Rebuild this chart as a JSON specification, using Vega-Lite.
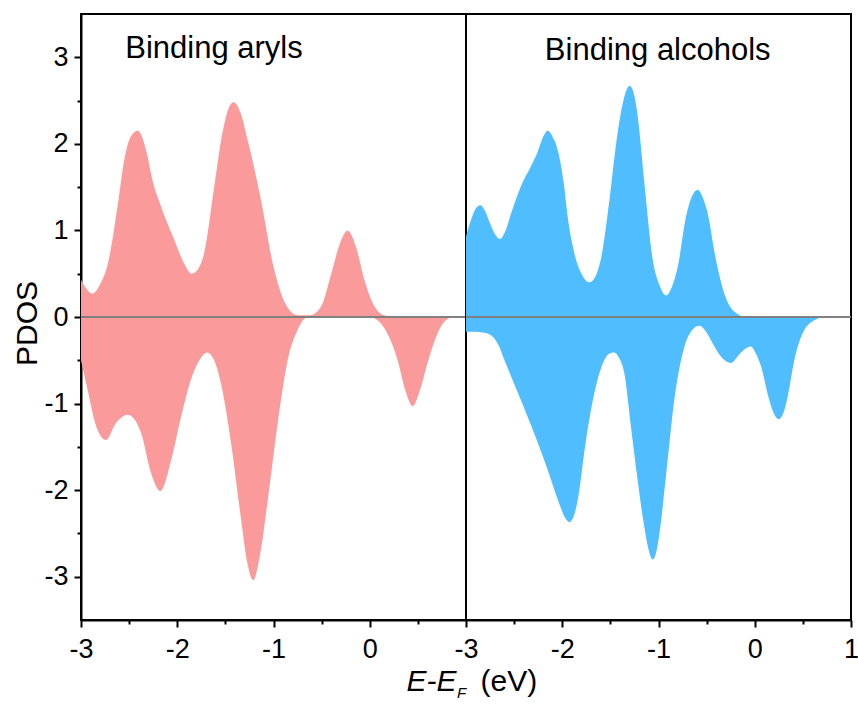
{
  "$schema": "https://vega.github.io/schema/vega-lite/v6.json",
  "padding": {"left": 11, "top": 13, "right": 0, "bottom": 0},
  "bounds": "flush",
  "spacing": 0,
  "config": {
    "font": "Liberation Sans",
    "view": {"stroke": "#000000", "strokeWidth": 2},
    "axis": {
      "grid": false,
      "domainColor": "#000000",
      "domainWidth": 2,
      "tickColor": "#000000",
      "tickWidth": 2,
      "labelColor": "#000000",
      "labelFont": "Liberation Sans",
      "labelFontSize": 27,
      "labelFlush": false,
      "labelOverlap": false,
      "titleFont": "Liberation Sans",
      "titleFontSize": 30,
      "titleFontWeight": "normal",
      "titleColor": "#000000"
    }
  },
  "title": {
    "text": "F",
    "orient": "bottom",
    "anchor": "start",
    "frame": "group",
    "dx": 376,
    "offset": -11,
    "fontSize": 15,
    "fontStyle": "italic",
    "fontWeight": "normal",
    "font": "Liberation Sans",
    "color": "#000000",
    "baseline": "top"
  },
  "datasets": {
    "aryls": [
      {"E": -3.00, "pdos": 0.43, "spin": "up"},
      {"E": -2.94, "pdos": 0.32, "spin": "up"},
      {"E": -2.88, "pdos": 0.27, "spin": "up"},
      {"E": -2.80, "pdos": 0.38, "spin": "up"},
      {"E": -2.72, "pdos": 0.62, "spin": "up"},
      {"E": -2.62, "pdos": 1.28, "spin": "up"},
      {"E": -2.55, "pdos": 1.82, "spin": "up"},
      {"E": -2.48, "pdos": 2.09, "spin": "up"},
      {"E": -2.41, "pdos": 2.15, "spin": "up"},
      {"E": -2.31, "pdos": 1.86, "spin": "up"},
      {"E": -2.26, "pdos": 1.59, "spin": "up"},
      {"E": -2.17, "pdos": 1.28, "spin": "up"},
      {"E": -2.03, "pdos": 0.89, "spin": "up"},
      {"E": -1.93, "pdos": 0.62, "spin": "up"},
      {"E": -1.85, "pdos": 0.50, "spin": "up"},
      {"E": -1.78, "pdos": 0.56, "spin": "up"},
      {"E": -1.72, "pdos": 0.74, "spin": "up"},
      {"E": -1.615, "pdos": 1.51, "spin": "up"},
      {"E": -1.53, "pdos": 2.13, "spin": "up"},
      {"E": -1.46, "pdos": 2.43, "spin": "up"},
      {"E": -1.414, "pdos": 2.48, "spin": "up"},
      {"E": -1.34, "pdos": 2.35, "spin": "up"},
      {"E": -1.27, "pdos": 2.05, "spin": "up"},
      {"E": -1.13, "pdos": 1.35, "spin": "up"},
      {"E": -1.00, "pdos": 0.58, "spin": "up"},
      {"E": -0.86, "pdos": 0.12, "spin": "up"},
      {"E": -0.75, "pdos": 0.02, "spin": "up"},
      {"E": -0.62, "pdos": 0.02, "spin": "up"},
      {"E": -0.506, "pdos": 0.12, "spin": "up"},
      {"E": -0.40, "pdos": 0.50, "spin": "up"},
      {"E": -0.31, "pdos": 0.85, "spin": "up"},
      {"E": -0.23, "pdos": 0.995, "spin": "up"},
      {"E": -0.143, "pdos": 0.81, "spin": "up"},
      {"E": -0.056, "pdos": 0.43, "spin": "up"},
      {"E": 0.05, "pdos": 0.12, "spin": "up"},
      {"E": 0.15, "pdos": 0.02, "spin": "up"},
      {"E": 0.30, "pdos": 0.0, "spin": "up"},
      {"E": 1.00, "pdos": 0.0, "spin": "up"},
      {"E": -3.00, "pdos": -0.50, "spin": "down"},
      {"E": -2.93, "pdos": -0.85, "spin": "down"},
      {"E": -2.84, "pdos": -1.27, "spin": "down"},
      {"E": -2.74, "pdos": -1.42, "spin": "down"},
      {"E": -2.64, "pdos": -1.23, "spin": "down"},
      {"E": -2.515, "pdos": -1.13, "spin": "down"},
      {"E": -2.376, "pdos": -1.34, "spin": "down"},
      {"E": -2.27, "pdos": -1.81, "spin": "down"},
      {"E": -2.176, "pdos": -2.01, "spin": "down"},
      {"E": -2.065, "pdos": -1.66, "spin": "down"},
      {"E": -1.96, "pdos": -1.15, "spin": "down"},
      {"E": -1.86, "pdos": -0.73, "spin": "down"},
      {"E": -1.77, "pdos": -0.50, "spin": "down"},
      {"E": -1.69, "pdos": -0.41, "spin": "down"},
      {"E": -1.62, "pdos": -0.49, "spin": "down"},
      {"E": -1.545, "pdos": -0.77, "spin": "down"},
      {"E": -1.44, "pdos": -1.46, "spin": "down"},
      {"E": -1.34, "pdos": -2.31, "spin": "down"},
      {"E": -1.27, "pdos": -2.85, "spin": "down"},
      {"E": -1.21, "pdos": -3.04, "spin": "down"},
      {"E": -1.15, "pdos": -2.81, "spin": "down"},
      {"E": -1.06, "pdos": -2.12, "spin": "down"},
      {"E": -0.957, "pdos": -1.23, "spin": "down"},
      {"E": -0.853, "pdos": -0.50, "spin": "down"},
      {"E": -0.75, "pdos": -0.15, "spin": "down"},
      {"E": -0.66, "pdos": -0.01, "spin": "down"},
      {"E": -0.55, "pdos": 0.0, "spin": "down"},
      {"E": 0.00, "pdos": 0.0, "spin": "down"},
      {"E": 0.07, "pdos": -0.03, "spin": "down"},
      {"E": 0.14, "pdos": -0.11, "spin": "down"},
      {"E": 0.29, "pdos": -0.50, "spin": "down"},
      {"E": 0.37, "pdos": -0.85, "spin": "down"},
      {"E": 0.446, "pdos": -1.03, "spin": "down"},
      {"E": 0.52, "pdos": -0.85, "spin": "down"},
      {"E": 0.60, "pdos": -0.53, "spin": "down"},
      {"E": 0.74, "pdos": -0.11, "spin": "down"},
      {"E": 0.84, "pdos": -0.01, "spin": "down"},
      {"E": 1.00, "pdos": 0.0, "spin": "down"}
    ],
    "alcohols": [
      {"E": -3.00, "pdos": 0.93, "spin": "up"},
      {"E": -2.948, "pdos": 1.12, "spin": "up"},
      {"E": -2.90, "pdos": 1.25, "spin": "up"},
      {"E": -2.85, "pdos": 1.29, "spin": "up"},
      {"E": -2.80, "pdos": 1.22, "spin": "up"},
      {"E": -2.75, "pdos": 1.08, "spin": "up"},
      {"E": -2.69, "pdos": 0.94, "spin": "up"},
      {"E": -2.647, "pdos": 0.90, "spin": "up"},
      {"E": -2.60, "pdos": 0.97, "spin": "up"},
      {"E": -2.53, "pdos": 1.20, "spin": "up"},
      {"E": -2.43, "pdos": 1.51, "spin": "up"},
      {"E": -2.325, "pdos": 1.74, "spin": "up"},
      {"E": -2.255, "pdos": 1.91, "spin": "up"},
      {"E": -2.19, "pdos": 2.10, "spin": "up"},
      {"E": -2.15, "pdos": 2.15, "spin": "up"},
      {"E": -2.10, "pdos": 2.08, "spin": "up"},
      {"E": -2.047, "pdos": 1.93, "spin": "up"},
      {"E": -1.98, "pdos": 1.51, "spin": "up"},
      {"E": -1.944, "pdos": 1.16, "spin": "up"},
      {"E": -1.875, "pdos": 0.74, "spin": "up"},
      {"E": -1.80, "pdos": 0.50, "spin": "up"},
      {"E": -1.72, "pdos": 0.40, "spin": "up"},
      {"E": -1.65, "pdos": 0.48, "spin": "up"},
      {"E": -1.60, "pdos": 0.66, "spin": "up"},
      {"E": -1.51, "pdos": 1.35, "spin": "up"},
      {"E": -1.424, "pdos": 2.13, "spin": "up"},
      {"E": -1.36, "pdos": 2.52, "spin": "up"},
      {"E": -1.30, "pdos": 2.67, "spin": "up"},
      {"E": -1.25, "pdos": 2.55, "spin": "up"},
      {"E": -1.216, "pdos": 2.32, "spin": "up"},
      {"E": -1.147, "pdos": 1.55, "spin": "up"},
      {"E": -1.06, "pdos": 0.66, "spin": "up"},
      {"E": -0.99, "pdos": 0.37, "spin": "up"},
      {"E": -0.92, "pdos": 0.25, "spin": "up"},
      {"E": -0.86, "pdos": 0.35, "spin": "up"},
      {"E": -0.80, "pdos": 0.58, "spin": "up"},
      {"E": -0.714, "pdos": 1.16, "spin": "up"},
      {"E": -0.65, "pdos": 1.40, "spin": "up"},
      {"E": -0.593, "pdos": 1.47, "spin": "up"},
      {"E": -0.54, "pdos": 1.38, "spin": "up"},
      {"E": -0.49, "pdos": 1.20, "spin": "up"},
      {"E": -0.403, "pdos": 0.66, "spin": "up"},
      {"E": -0.316, "pdos": 0.27, "spin": "up"},
      {"E": -0.21, "pdos": 0.06, "spin": "up"},
      {"E": -0.09, "pdos": 0.0, "spin": "up"},
      {"E": 1.00, "pdos": 0.0, "spin": "up"},
      {"E": -3.00, "pdos": -0.17, "spin": "down"},
      {"E": -2.90, "pdos": -0.17, "spin": "down"},
      {"E": -2.83, "pdos": -0.18, "spin": "down"},
      {"E": -2.76, "pdos": -0.20, "spin": "down"},
      {"E": -2.72, "pdos": -0.23, "spin": "down"},
      {"E": -2.66, "pdos": -0.33, "spin": "down"},
      {"E": -2.60, "pdos": -0.50, "spin": "down"},
      {"E": -2.43, "pdos": -0.96, "spin": "down"},
      {"E": -2.29, "pdos": -1.35, "spin": "down"},
      {"E": -2.15, "pdos": -1.77, "spin": "down"},
      {"E": -2.03, "pdos": -2.16, "spin": "down"},
      {"E": -1.97, "pdos": -2.32, "spin": "down"},
      {"E": -1.926, "pdos": -2.37, "spin": "down"},
      {"E": -1.88, "pdos": -2.30, "spin": "down"},
      {"E": -1.84, "pdos": -2.12, "spin": "down"},
      {"E": -1.753, "pdos": -1.42, "spin": "down"},
      {"E": -1.667, "pdos": -0.88, "spin": "down"},
      {"E": -1.58, "pdos": -0.54, "spin": "down"},
      {"E": -1.52, "pdos": -0.43, "spin": "down"},
      {"E": -1.465, "pdos": -0.41, "spin": "down"},
      {"E": -1.41, "pdos": -0.47, "spin": "down"},
      {"E": -1.355, "pdos": -0.65, "spin": "down"},
      {"E": -1.286, "pdos": -1.27, "spin": "down"},
      {"E": -1.216, "pdos": -1.89, "spin": "down"},
      {"E": -1.147, "pdos": -2.43, "spin": "down"},
      {"E": -1.10, "pdos": -2.70, "spin": "down"},
      {"E": -1.06, "pdos": -2.80, "spin": "down"},
      {"E": -1.02, "pdos": -2.70, "spin": "down"},
      {"E": -0.99, "pdos": -2.50, "spin": "down"},
      {"E": -0.92, "pdos": -1.81, "spin": "down"},
      {"E": -0.836, "pdos": -0.96, "spin": "down"},
      {"E": -0.73, "pdos": -0.34, "spin": "down"},
      {"E": -0.65, "pdos": -0.15, "spin": "down"},
      {"E": -0.576, "pdos": -0.10, "spin": "down"},
      {"E": -0.50, "pdos": -0.18, "spin": "down"},
      {"E": -0.455, "pdos": -0.27, "spin": "down"},
      {"E": -0.35, "pdos": -0.46, "spin": "down"},
      {"E": -0.247, "pdos": -0.53, "spin": "down"},
      {"E": -0.15, "pdos": -0.42, "spin": "down"},
      {"E": -0.09, "pdos": -0.36, "spin": "down"},
      {"E": -0.039, "pdos": -0.34, "spin": "down"},
      {"E": 0.01, "pdos": -0.42, "spin": "down"},
      {"E": 0.065, "pdos": -0.57, "spin": "down"},
      {"E": 0.151, "pdos": -0.96, "spin": "down"},
      {"E": 0.20, "pdos": -1.12, "spin": "down"},
      {"E": 0.25, "pdos": -1.18, "spin": "down"},
      {"E": 0.30, "pdos": -1.10, "spin": "down"},
      {"E": 0.342, "pdos": -0.92, "spin": "down"},
      {"E": 0.411, "pdos": -0.50, "spin": "down"},
      {"E": 0.515, "pdos": -0.15, "spin": "down"},
      {"E": 0.636, "pdos": -0.03, "spin": "down"},
      {"E": 0.70, "pdos": 0.0, "spin": "down"},
      {"E": 1.00, "pdos": 0.0, "spin": "down"}
    ]
  },
  "hconcat": [
    {
      "width": 385,
      "height": 606,
      "data": {"name": "aryls"},
      "layer": [
        {
          "mark": {"type": "area", "interpolate": "monotone", "color": "#FA9A9A"},
          "encoding": {
            "x": {
              "field": "E", "type": "quantitative",
              "scale": {"domain": [-3, 1], "nice": false, "zero": false},
              "axis": {
                "values": [-3, -2.5, -2, -1.5, -1, -0.5, 0, 0.5],
                "tickSize": {"condition": {"test": "datum.value % 1 !== 0", "value": 4}, "value": 7},
                "labelExpr": "datum.value % 1 === 0 ? '' + datum.value : ''",
                "labelPadding": 9,
                "title": "E-E",
                "titleFontStyle": "italic",
                "titleX": 375,
                "titleY": 70,
                "titleAlign": "right",
                "titleBaseline": "alphabetic"
              }
            },
            "y": {
              "field": "pdos", "type": "quantitative", "stack": null,
              "scale": {"domain": [-3.5, 3.5], "nice": false},
              "axis": {
                "values": [-3, -2.5, -2, -1.5, -1, -0.5, 0, 0.5, 1, 1.5, 2, 2.5, 3],
                "tickSize": {"condition": {"test": "datum.value % 1 !== 0", "value": 4}, "value": 7},
                "labelExpr": "datum.value % 1 === 0 ? '' + datum.value : ''",
                "labelPadding": 6,
                "title": "PDOS",
                "titleAngle": -90,
                "titleX": -45,
                "titleY": 309,
                "titleAlign": "center",
                "titleBaseline": "alphabetic"
              }
            },
            "detail": {"field": "spin"}
          }
        },
        {
          "mark": {"type": "rule", "color": "#808080", "strokeWidth": 2.2},
          "encoding": {"y": {"datum": 0}}
        },
        {
          "data": {"values": [{"label": "Binding aryls"}]},
          "mark": {"type": "text", "fontSize": 31, "align": "center", "baseline": "alphabetic", "color": "#000000", "font": "Liberation Sans"},
          "encoding": {
            "x": {"datum": -1.618},
            "y": {"datum": 2.99},
            "text": {"field": "label"}
          }
        }
      ]
    },
    {
      "width": 385,
      "height": 606,
      "data": {"name": "alcohols"},
      "layer": [
        {
          "mark": {"type": "area", "interpolate": "monotone", "color": "#50BDFF"},
          "encoding": {
            "x": {
              "field": "E", "type": "quantitative",
              "scale": {"domain": [-3, 1], "nice": false, "zero": false},
              "axis": {
                "values": [-3, -2.5, -2, -1.5, -1, -0.5, 0, 0.5, 1],
                "tickSize": {"condition": {"test": "datum.value % 1 !== 0", "value": 4}, "value": 7},
                "labelExpr": "datum.value % 1 === 0 ? '' + datum.value : ''",
                "labelPadding": 9,
                "title": "(eV)",
                "titleX": 14,
                "titleY": 70,
                "titleAlign": "left",
                "titleBaseline": "alphabetic"
              }
            },
            "y": {
              "field": "pdos", "type": "quantitative", "stack": null,
              "scale": {"domain": [-3.5, 3.5], "nice": false},
              "axis": null
            },
            "detail": {"field": "spin"}
          }
        },
        {
          "mark": {"type": "rule", "color": "#808080", "strokeWidth": 2.2},
          "encoding": {"y": {"datum": 0}}
        },
        {
          "data": {"values": [{"label": "Binding alcohols"}]},
          "mark": {"type": "text", "fontSize": 31, "align": "center", "baseline": "alphabetic", "color": "#000000", "font": "Liberation Sans"},
          "encoding": {
            "x": {"datum": -1.008},
            "y": {"datum": 2.97},
            "text": {"field": "label"}
          }
        }
      ]
    }
  ]
}
